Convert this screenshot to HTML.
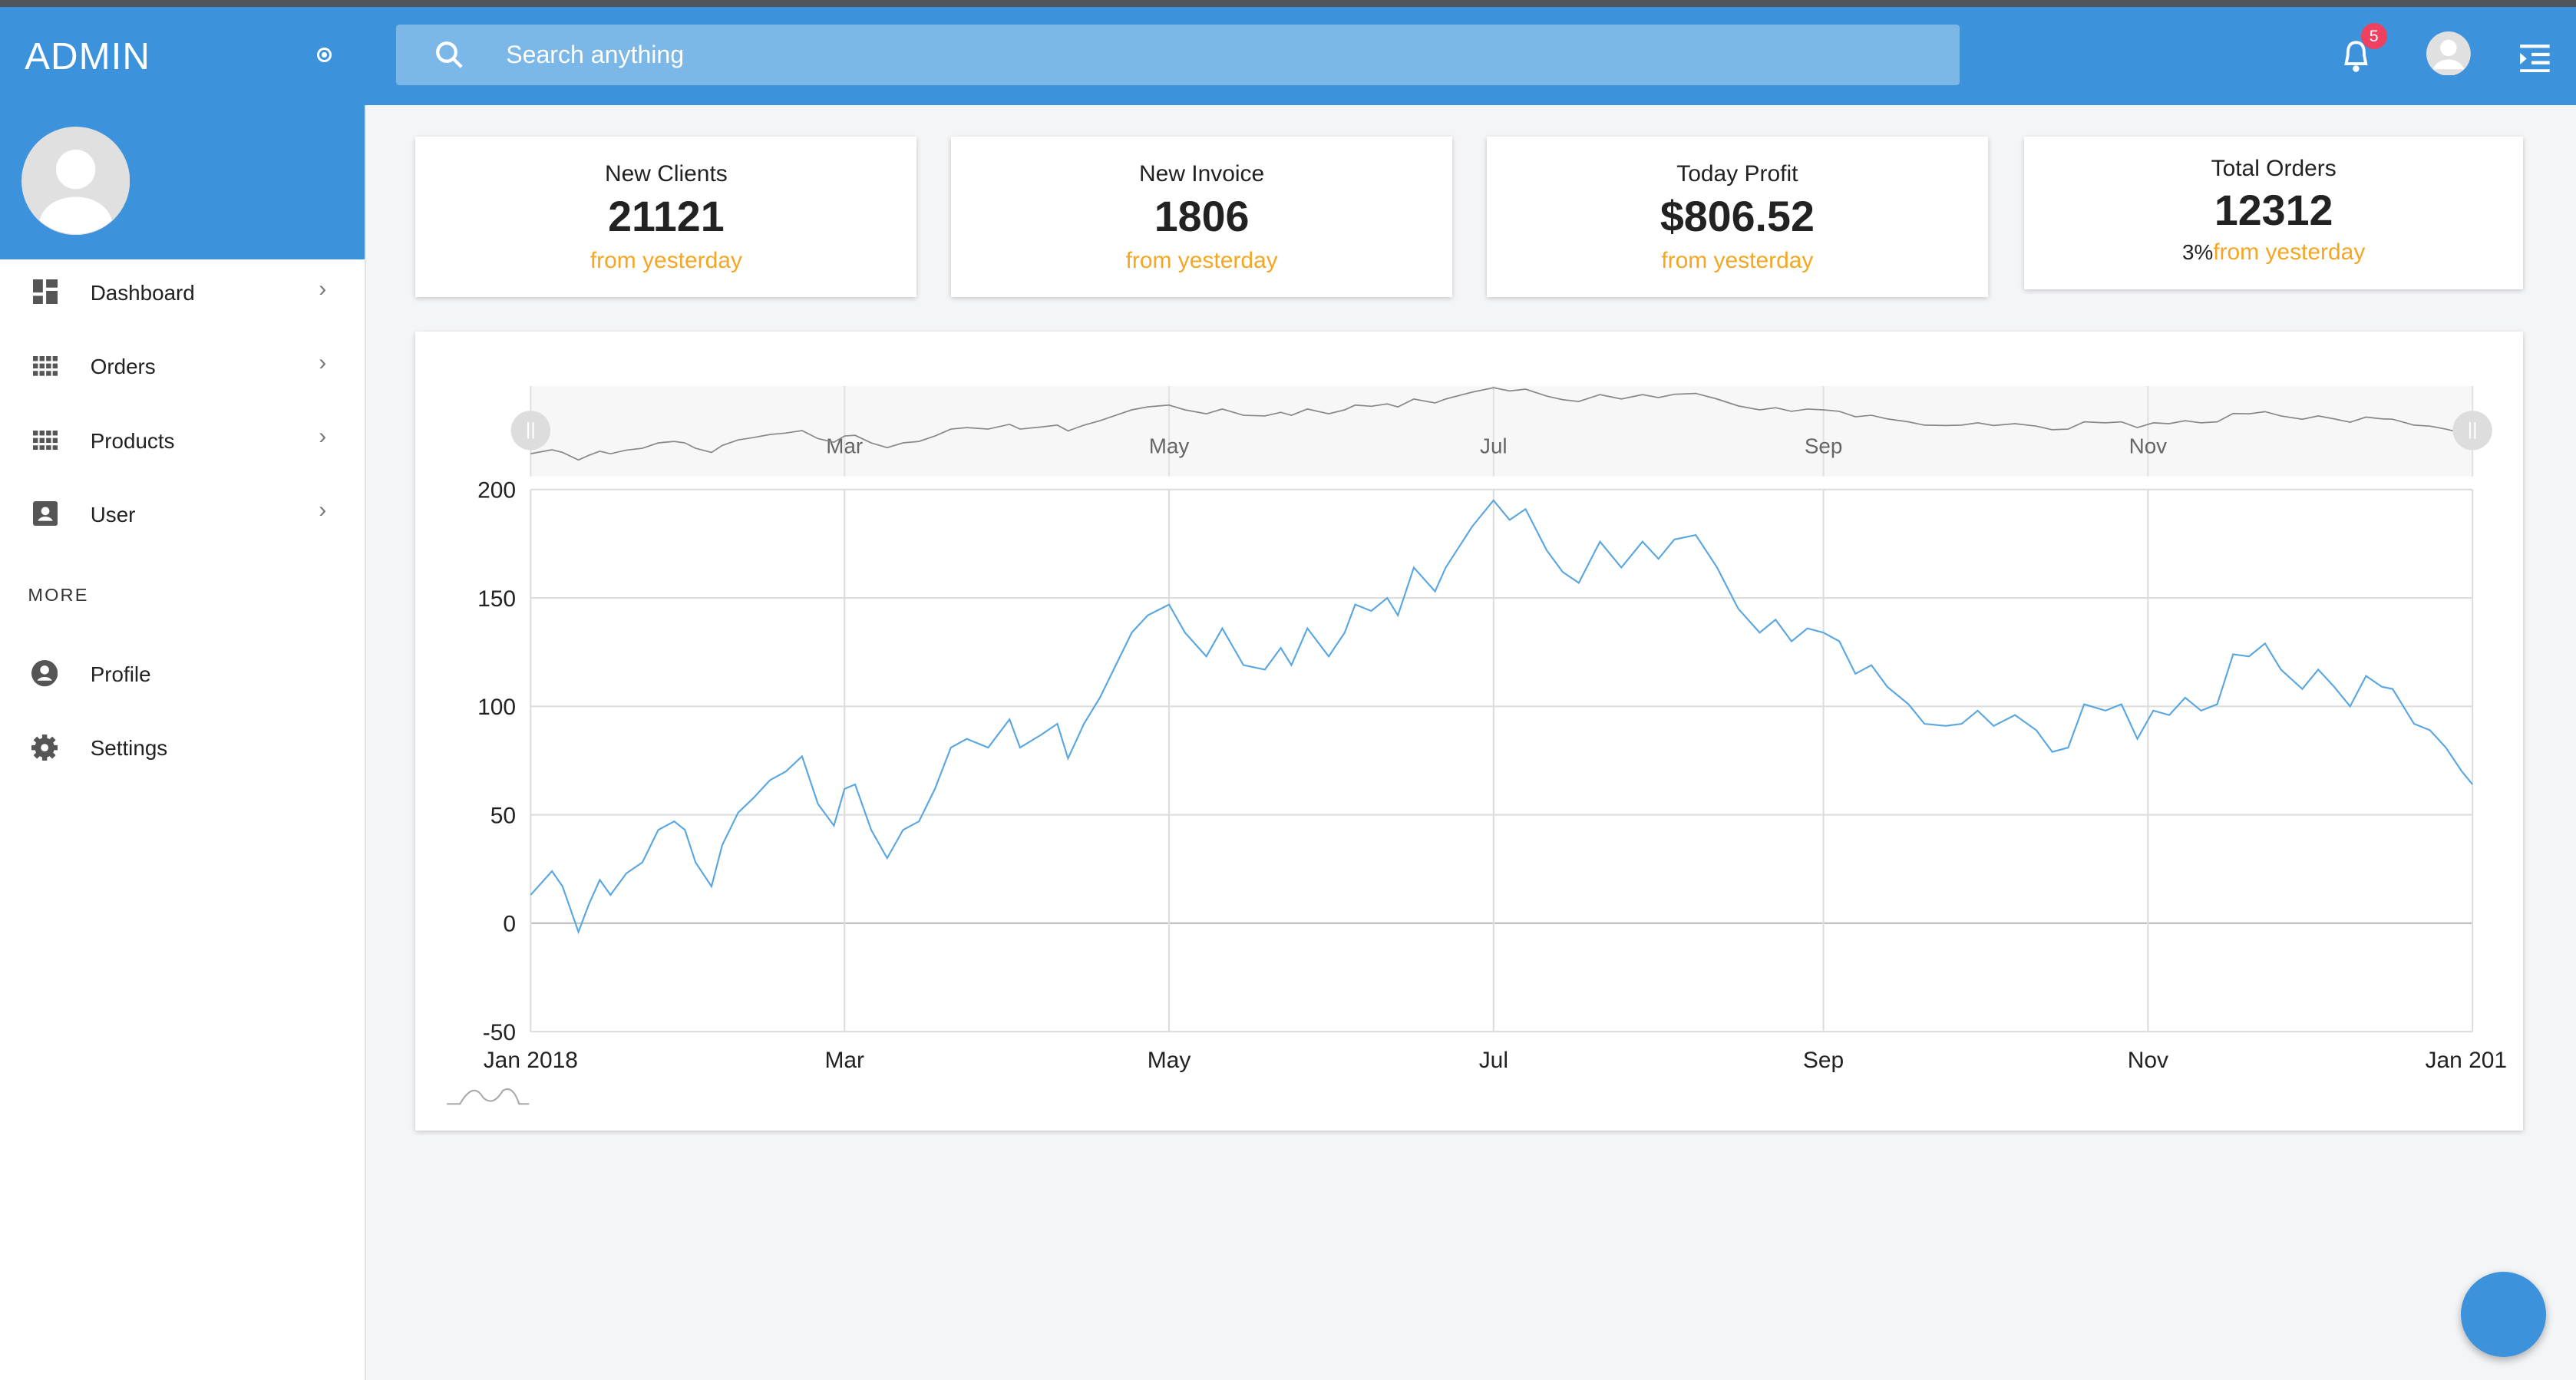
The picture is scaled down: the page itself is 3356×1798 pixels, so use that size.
<!DOCTYPE html>
<html><head><meta charset="utf-8">
<style>
html,body{margin:0;padding:0;}
body{width:1568px;height:840px;overflow:hidden;zoom:2.1403;background:#f4f5f7;font-family:"Liberation Sans",sans-serif;position:relative;}
.abs{position:absolute;}
.topstrip{left:0;top:0;width:1568px;height:4px;background:#50555c;}
.header{left:0;top:4px;width:1568px;height:60px;background:#3d92dc;}
.logo{left:15px;top:21px;color:#fff;font-size:23px;letter-spacing:0.5px;}
.sidebar{left:0;top:64px;width:222px;height:776px;background:#fff;border-right:1px solid #e3e3e3;}
.sidetop{left:0;top:64px;width:222px;height:94px;background:#3d92dc;}
.search{left:241px;top:15px;width:952px;height:37px;background:#7bb7e7;border-radius:2px;}
.search span{position:absolute;left:67px;top:10px;color:#fff;font-size:15px;}
.nav{left:0;width:222px;height:44px;font-size:13px;color:#222;}
.nav .t{position:absolute;left:55px;top:15px;}
.nav .c{position:absolute;left:194px;top:12px;color:#777;font-size:14px;}
.card{background:#fff;box-shadow:0 1px 3px rgba(0,0,0,0.2);text-align:center;}
.card .l{font-size:14px;color:#222;margin-top:15px;}
.card .v{font-size:26px;font-weight:bold;color:#222;margin-top:3px;}
.card .s{font-size:14px;color:#f5a623;margin-top:4px;}
</style></head><body>
<div class="abs topstrip"></div>
<div class="abs header"></div>
<div class="abs logo">ADMIN</div>
<div class="abs" style="left:193px;top:29px;border:1.5px solid #fff;border-radius:50%;width:6px;height:6px;"><div style="margin:1.5px;width:3px;height:3px;border-radius:50%;background:#fff"></div></div>
<div class="abs search">
<svg style="position:absolute;left:24px;top:10px" width="18" height="18" viewBox="0 0 18 18"><circle cx="7" cy="7" r="5.5" stroke="#fff" stroke-width="2" fill="none"/><line x1="11" y1="11" x2="16" y2="16" stroke="#fff" stroke-width="2"/></svg>
<span>Search anything</span></div>
<svg class="abs" style="left:1424px;top:24px" width="20" height="22"><path d="M10 2 C5 2 5 7 5 10 L4 15 L16 15 L15 10 C15 7 15 2 10 2Z" fill="none" stroke="#fff" stroke-width="1.8"/><circle cx="10" cy="18" r="2" fill="#fff"/></svg>
<div class="abs" style="left:1437px;top:14px;width:16px;height:16px;border-radius:50%;background:#ef4060;color:#fff;font-size:10px;text-align:center;line-height:16px;">5</div>
<svg class="abs" style="left:1477px;top:19px" width="27" height="27"><circle cx="13.5" cy="13.5" r="13.5" fill="#e0e0e0"/><circle cx="13.5" cy="10" r="5" fill="#fff"/><path d="M4 23 C7 15 20 15 23 23Z" fill="#fff"/></svg>
<svg class="abs" style="left:1533px;top:26px" width="20" height="18"><g stroke="#fff" stroke-width="2"><line x1="1" y1="2" x2="19" y2="2"/><line x1="8" y1="7" x2="19" y2="7"/><line x1="8" y1="12" x2="19" y2="12"/><line x1="1" y1="17" x2="19" y2="17"/></g><path d="M1 6 L5 9.5 L1 13Z" fill="#fff"/></svg>

<div class="abs sidebar"></div>
<div class="abs sidetop"></div>
<svg class="abs" style="left:13px;top:77px" width="66" height="66"><circle cx="33" cy="33" r="33" fill="#e0e0e0"/><circle cx="33" cy="26" r="12" fill="#fff"/><path d="M11 57 C16 38 50 38 55 57 A33 33 0 0 1 11 57Z" fill="#fff"/></svg>
<div class="abs nav" style="top:156px"><svg style="position:absolute;left:20px;top:14px" width="15" height="15"><rect x="0" y="0" width="6" height="8" fill="#555"/><rect x="8" y="0" width="7" height="5" fill="#555"/><rect x="0" y="10" width="6" height="5" fill="#555"/><rect x="8" y="7" width="7" height="8" fill="#555"/></svg><span class="t">Dashboard</span><span class="c">&#8250;</span></div>
<div class="abs nav" style="top:201px"><svg style="position:absolute;left:20px;top:16px" width="15" height="12"><g fill="#555"><rect x="0" y="0" width="3" height="3"/><rect x="4" y="0" width="3" height="3"/><rect x="8" y="0" width="3" height="3"/><rect x="12" y="0" width="3" height="3"/><rect x="0" y="4.5" width="3" height="3"/><rect x="4" y="4.5" width="3" height="3"/><rect x="8" y="4.5" width="3" height="3"/><rect x="12" y="4.5" width="3" height="3"/><rect x="0" y="9" width="3" height="3"/><rect x="4" y="9" width="3" height="3"/><rect x="8" y="9" width="3" height="3"/><rect x="12" y="9" width="3" height="3"/></g></svg><span class="t">Orders</span><span class="c">&#8250;</span></div>
<div class="abs nav" style="top:246px"><svg style="position:absolute;left:20px;top:16px" width="15" height="12"><g fill="#555"><rect x="0" y="0" width="3" height="3"/><rect x="4" y="0" width="3" height="3"/><rect x="8" y="0" width="3" height="3"/><rect x="12" y="0" width="3" height="3"/><rect x="0" y="4.5" width="3" height="3"/><rect x="4" y="4.5" width="3" height="3"/><rect x="8" y="4.5" width="3" height="3"/><rect x="12" y="4.5" width="3" height="3"/><rect x="0" y="9" width="3" height="3"/><rect x="4" y="9" width="3" height="3"/><rect x="8" y="9" width="3" height="3"/><rect x="12" y="9" width="3" height="3"/></g></svg><span class="t">Products</span><span class="c">&#8250;</span></div>
<div class="abs nav" style="top:291px"><svg style="position:absolute;left:20px;top:14px" width="15" height="15"><rect width="15" height="15" rx="1.5" fill="#555"/><circle cx="7.5" cy="6" r="2.5" fill="#fff"/><path d="M3 12 C4 8.5 11 8.5 12 12Z" fill="#fff"/></svg><span class="t">User</span><span class="c">&#8250;</span></div>
<div class="abs" style="left:17px;top:356px;font-size:11px;color:#333;letter-spacing:1px;">MORE</div>
<div class="abs nav" style="top:388px"><svg style="position:absolute;left:19px;top:14px" width="16" height="16"><circle cx="8" cy="8" r="8" fill="#555"/><circle cx="8" cy="6" r="2.7" fill="#fff"/><path d="M3.5 12.5 C5 9.5 11 9.5 12.5 12.5Z" fill="#fff"/></svg><span class="t">Profile</span></div>
<div class="abs nav" style="top:433px"><svg style="position:absolute;left:19px;top:14px" width="16" height="16"><circle cx="8" cy="8" r="6" fill="#555"/><g stroke="#555" stroke-width="3"><line x1="8" y1="0" x2="8" y2="16"/><line x1="0" y1="8" x2="16" y2="8"/><line x1="2.3" y1="2.3" x2="13.7" y2="13.7"/><line x1="13.7" y1="2.3" x2="2.3" y2="13.7"/></g><circle cx="8" cy="8" r="2.3" fill="#fff"/></svg><span class="t">Settings</span></div>

<div class="abs card" style="left:253px;top:83px;width:305px;height:98px"><div class="l">New Clients</div><div class="v">21121</div><div class="s">from yesterday</div></div>
<div class="abs card" style="left:579px;top:83px;width:305px;height:98px"><div class="l">New Invoice</div><div class="v">1806</div><div class="s">from yesterday</div></div>
<div class="abs card" style="left:905px;top:83px;width:305px;height:98px"><div class="l">Today Profit</div><div class="v">$806.52</div><div class="s">from yesterday</div></div>
<div class="abs card" style="left:1232px;top:83px;width:304px;height:93px"><div class="l" style="margin-top:12px">Total Orders</div><div class="v" style="margin-top:2px">12312</div><div class="s" style="margin-top:3px"><span style="color:#222;font-size:13px">3%</span>from yesterday</div></div>

<div class="abs card" style="left:253px;top:202px;width:1283px;height:486px"></div>
<svg class="abs" id="chart" style="left:0;top:0" width="1568" height="840"></svg>
<div class="abs" style="left:1498px;top:774px;width:52px;height:52px;border-radius:50%;background:#3d92dc;box-shadow:0 2px 5px rgba(0,0,0,0.3)"></div>

<script>
const days=[0,4,6,9,11,13,15,18,21,24,27,29,31,34,36,39,42,45,48,51,54,57,59,61,64,67,70,73,76,79,82,86,90,92,96,99,101,104,107,110,113,116,120,123,127,130,134,138,141,143,146,150,153,155,158,161,163,166,170,172,177,181,184,187,191,194,197,201,205,209,212,215,219,223,227,231,234,237,240,243,246,249,252,255,259,262,266,269,272,275,279,283,286,289,292,296,299,302,305,308,311,314,317,320,323,326,329,333,336,339,342,345,348,350,354,357,360,363,365];
const values=[13,24,17,-4,9,20,13,23,28,43,47,43,28,17,36,51,58,66,70,77,55,45,62,64,43,30,43,47,62,81,85,81,94,81,87,92,76,92,104,119,134,142,147,134,123,136,119,117,127,119,136,123,134,147,144,150,142,164,153,164,183,195,186,191,172,162,157,176,164,176,168,177,179,164,145,134,140,130,136,134,130,115,119,109,101,92,91,92,98,91,96,89,79,81,101,98,101,85,98,96,104,98,101,124,123,129,117,108,117,109,100,114,109,108,92,89,81,70,64];
const yTicks=[-50,0,50,100,150,200];
const xTickDays=[0,59,120,181,243,304,365];
const xTickLabels=["Jan 2018","Mar","May","Jul","Sep","Nov","Jan 201"];
const navTickLabels=["","Mar","May","Jul","Sep","Nov",""];
</script>
<script>
(function(){
const ns="http://www.w3.org/2000/svg",svg=document.getElementById('chart');
const X0=323,X1=1505,Y0=628,Y1=298;
const n=Math.min(days.length,values.length);
const xs=d=>X0+d/365*(X1-X0);
const ys=v=>Y0-(v+50)/250*(Y0-Y1);
function mk(t,a){const e=document.createElementNS(ns,t);for(const k in a)e.setAttribute(k,a[k]);svg.appendChild(e);return e;}
let nb=mk('rect',{x:323,y:235,width:1182,height:55,fill:'#f7f7f7'});


const vmin=Math.min(...values),vmax=Math.max(...values);
const ny=v=>280-(v-vmin)/(vmax-vmin)*44;
xTickDays.forEach((d,i)=>{
 let g=mk('line',{x1:xs(d),x2:xs(d),y1:235,y2:290,stroke:'#e2e2e2'});
 
 
 if(navTickLabels[i]){let t=mk('text',{x:xs(d),y:276,'text-anchor':'middle','font-size':13,fill:'#666'});t.textContent=navTickLabels[i];
 
 }
});
let np='';for(let i=0;i<n;i++)np+=(i?'L':'M')+xs(days[i]).toFixed(1)+' '+ny(values[i]).toFixed(1);
let nl=mk('path',{d:np,fill:'none',stroke:'#888','stroke-width':0.8});


[323,1505].forEach(x=>{let h=mk('circle',{cx:x,cy:262,r:12,fill:'#ddd'});
 
 
 mk('line',{x1:x-1.5,x2:x-1.5,y1:257,y2:267,stroke:'#fff'});mk('line',{x1:x+1.5,x2:x+1.5,y1:257,y2:267,stroke:'#fff'});});
yTicks.forEach(v=>{
 let g=mk('line',{x1:X0,x2:X1,y1:ys(v),y2:ys(v),stroke:v===0?'#bbb':'#ddd'});
 
 
 let t=mk('text',{x:314,y:ys(v)+5,'text-anchor':'end','font-size':14,fill:'#222'});t.textContent=v;
 
 
});
xTickDays.forEach((d,i)=>{
 let g=mk('line',{x1:xs(d),x2:xs(d),y1:Y1,y2:Y0,stroke:'#ddd'});
 
 
 let t=mk('text',{x:i===6?1526:xs(d),y:650,'text-anchor':i===6?'end':'middle','font-size':14,fill:'#222'});t.textContent=xTickLabels[i];
 
 
});
let p='';for(let i=0;i<n;i++)p+=(i?'L':'M')+xs(days[i]).toFixed(1)+' '+ys(values[i]).toFixed(1);
let l=mk('path',{d:p,fill:'none',stroke:'#5aa6e0','stroke-width':1});


let lg=mk('path',{d:'M272 672 L280 672 Q288 658 294 668 Q300 674 306 664 Q312 660 316 672 L322 672',fill:'none',stroke:'#aaa','stroke-width':1});


})();
</script>
</body></html>
